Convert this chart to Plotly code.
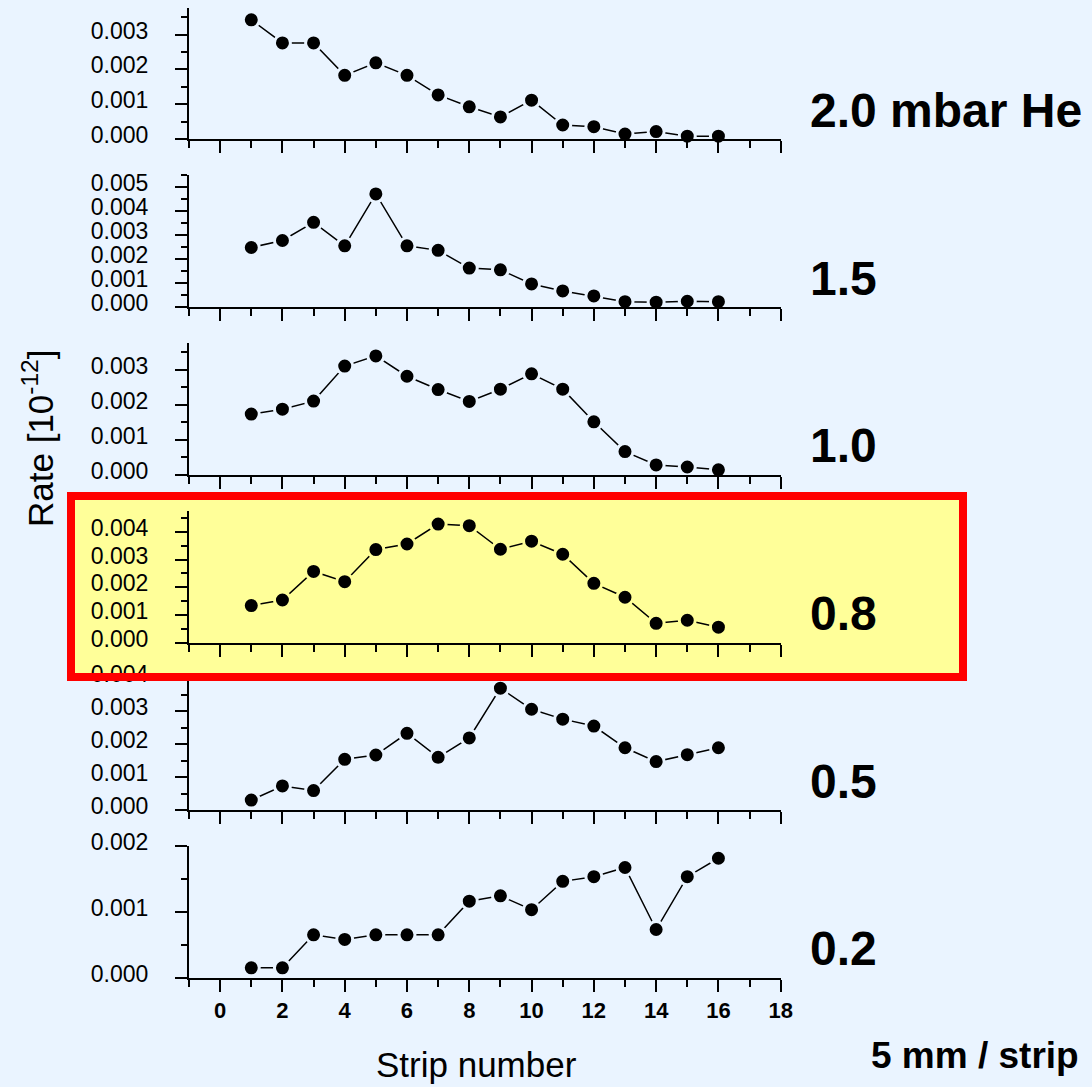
import plotly.graph_objects as go

W, H = 1092, 1087

strips = list(range(1, 17))
rate_2p0 = [3.42, 2.76, 2.76, 1.83, 2.19, 1.83, 1.27, 0.93, 0.64, 1.12, 0.41, 0.36, 0.15, 0.22, 0.09, 0.09]
rate_1p5 = [2.48, 2.77, 3.53, 2.55, 4.71, 2.55, 2.36, 1.62, 1.55, 0.96, 0.67, 0.46, 0.22, 0.20, 0.24, 0.22]
rate_1p0 = [1.73, 1.87, 2.10, 3.10, 3.39, 2.81, 2.43, 2.09, 2.44, 2.88, 2.44, 1.51, 0.66, 0.28, 0.22, 0.14]
rate_0p8 = [1.34, 1.54, 2.57, 2.20, 3.36, 3.56, 4.28, 4.22, 3.37, 3.66, 3.19, 2.14, 1.64, 0.70, 0.81, 0.56]
rate_0p5 = [0.30, 0.73, 0.59, 1.54, 1.67, 2.33, 1.60, 2.19, 3.70, 3.06, 2.76, 2.55, 1.89, 1.47, 1.68, 1.89]
rate_0p2 = [0.15, 0.15, 0.65, 0.58, 0.65, 0.65, 0.65, 1.16, 1.24, 1.03, 1.46, 1.53, 1.67, 0.73, 1.53, 1.81]

series = [rate_2p0, rate_1p5, rate_1p0, rate_0p8, rate_0p5, rate_0p2]
labels = ["2.0 mbar He", "1.5", "1.0", "0.8", "0.5", "0.2"]
y_max = [0.00375, 0.0055, 0.00375, 0.00475, 0.004, 0.002]
x_ticks = list(range(0, 19, 2))

BG = "#EAF4FF"
YEL = "#FFFF99"
RED = "#FF0000"
FONT = "Liberation Sans, Arial, sans-serif"

panel_px = [(8.3, 139.3), (175, 307), (343.3, 474.7), (511, 642.7), (678.3, 810), (845.7, 977.7)]
x_left, x_right = 189, 780.7

def py(p):
    return 1 - p / H

def pxx(p):
    return p / W

fig = go.Figure()
layout = dict(
    width=W, height=H,
    margin=dict(l=0, r=0, t=0, b=0),
    paper_bgcolor=BG, plot_bgcolor="rgba(0,0,0,0)",
    showlegend=False,
    font=dict(family=FONT, color="black"),
)

annotations = []
for i, (vals, lab, ym) in enumerate(zip(series, labels, y_max)):
    n = i + 1
    top, bot = panel_px[i]
    halo = YEL if i == 3 else BG
    fig.add_trace(go.Scatter(
        x=strips, y=[v * 1e-3 for v in vals],
        mode="lines+markers",
        line=dict(color="black", width=1.5),
        marker=dict(size=16, color="black", line=dict(color=halo, width=3)),
        xaxis=f"x{n}", yaxis=f"y{n}", cliponaxis=False,
    ))
    last = (i == len(series) - 1)
    layout[f"xaxis{n}"] = dict(
        domain=[pxx(x_left), pxx(x_right)], anchor=f"y{n}",
        range=[-1, 18], showgrid=False, zeroline=False,
        showline=True, linecolor="black", linewidth=2,
        ticks="outside", ticklen=12, tickwidth=2, tickcolor="black",
        tickmode="array", tickvals=x_ticks,
        ticktext=[f"<b>{t}</b>" for t in x_ticks],
        showticklabels=last,
        tickfont=dict(size=22, family=FONT, color="black"),
        ticklabelstandoff=0,
        minor=dict(dtick=1, tick0=0, ticks="outside", ticklen=7, tickwidth=2, tickcolor="black"),
        automargin=False,
    )
    layout[f"yaxis{n}"] = dict(
        domain=[py(bot), py(top)], anchor=f"x{n}",
        range=[0, ym], showgrid=False, zeroline=False,
        showline=True, linecolor="black", linewidth=2,
        ticks="outside", ticklen=12, tickwidth=2, tickcolor="black",
        tick0=0, dtick=0.001, tickformat=".3f",
        tickfont=dict(size=23, family=FONT, color="black"),
        ticklabelstandoff=22, ticklabelshift=-4,
        minor=dict(dtick=0.0005, tick0=0, ticks="outside", ticklen=6, tickwidth=2, tickcolor="black"),
        automargin=False,
    )
    annotations.append(dict(
        text=f"<b>{lab}</b>", xref="paper", yref="paper",
        x=pxx(808), y=py(bot - 29), xanchor="left", yanchor="middle",
        showarrow=False, font=dict(size=48, family=FONT, color="black"),
    ))

annotations.append(dict(
    text="Rate [10<sup>-12</sup>]", xref="paper", yref="paper",
    x=pxx(38), y=py(439), xanchor="center", yanchor="middle", textangle=-90,
    showarrow=False, font=dict(size=35, family=FONT, color="black"),
))
annotations.append(dict(
    text="Strip number", xref="paper", yref="paper",
    x=pxx(476), y=py(1064), xanchor="center", yanchor="middle",
    showarrow=False, font=dict(size=35, family=FONT, color="black"),
))
annotations.append(dict(
    text="<b>5 mm / strip</b>", xref="paper", yref="paper",
    x=pxx(975), y=py(1055), xanchor="center", yanchor="middle",
    showarrow=False, font=dict(size=37, family=FONT, color="black"),
))
layout["annotations"] = annotations

layout["shapes"] = [
    dict(type="rect", xref="paper", yref="paper", layer="below",
         x0=pxx(67), x1=pxx(967), y0=py(681), y1=py(492),
         fillcolor=YEL, line=dict(width=0)),
    dict(type="rect", xref="paper", yref="paper", layer="above",
         x0=pxx(71), x1=pxx(963), y0=py(677), y1=py(496),
         fillcolor="rgba(0,0,0,0)", line=dict(color=RED, width=8)),
]

fig.update_layout(**layout)
fig.write_html("out.html")
